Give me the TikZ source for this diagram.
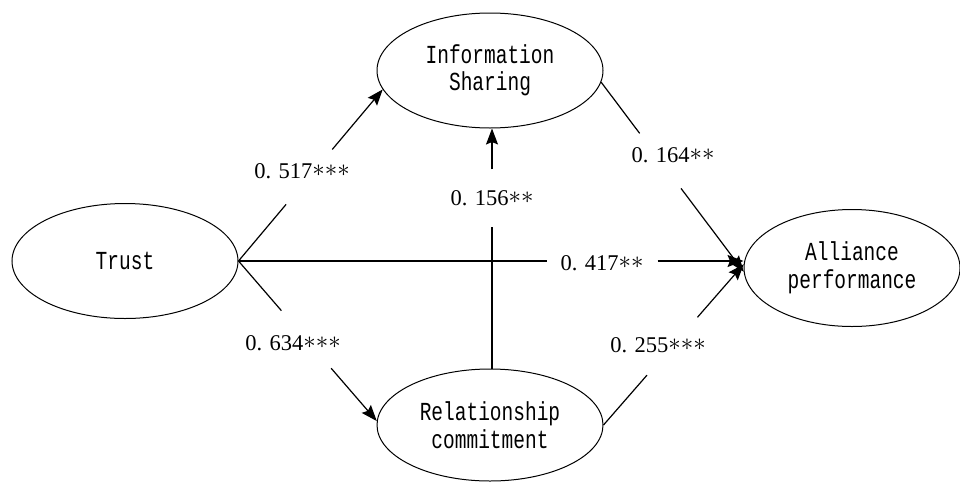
\documentclass[tikz,border=0pt]{standalone}
\usepackage{fontspec}
\setmainfont{Liberation Serif}
\newfontfamily\nodefont[FakeStretch=0.75]{Liberation Mono}
\newcommand{\onestar}{\mathord{\ast}}
\newcommand{\stars}[1]{\raisebox{1.5pt}{\fontsize{25}{25}\selectfont$#1$}}
\usetikzlibrary{shapes.geometric,arrows.meta,calc}
\begin{document}
\begin{tikzpicture}[x=1pt,y=-1pt,
  latent/.style={draw, ellipse, line width=1.0pt, inner sep=0pt,
    minimum width=226pt, minimum height=115pt, align=center,
    font=\nodefont\fontsize{26}{27.5}\selectfont},
  link/.style={line width=1.2pt},
  arrowlink/.style={line width=1.2pt, -{Stealth[length=16pt,width=12pt,inset=2.5pt]}},
  coef/.style={font=\fontsize{22.5}{26}\selectfont, inner sep=0pt}]
\useasboundingbox (0,0) rectangle (960,485);
\node[latent] (T) at (125,261) {Trust};
\node[latent] (IS) at (490,70.5) {Information\\Sharing};
\node[latent, minimum width=216pt, minimum height=117pt] (AP) at (852,268) {Alliance\\performance};
\node[latent, minimum height=112pt] (RC) at (490,425) {Relationship\\commitment};

% Trust -> Information Sharing
\coordinate (t1) at (T.east);
\coordinate (i1) at (IS.190);
\draw[link] (t1) -- ($(t1)!0.33!(i1)$);
\draw[arrowlink] ($(t1)!0.65!(i1)$) -- (i1);
\node[coef] (c1) at (302,171) {0. 517\stars{\onestar\onestar\onestar}};

% Trust -> Relationship commitment
\coordinate (r1) at (RC.178);
\draw[link] (t1) -- ($(t1)!0.31!(r1)$);
\draw[arrowlink] ($(t1)!0.67!(r1)$) -- (r1);
\node[coef] (c2) at (293,343) {0. 634\stars{\onestar\onestar\onestar}};

% Trust -> Alliance performance
\coordinate (a1) at (T.east -| AP.west);
\draw[link] (t1) -- ($(t1)!0.61!(a1)$);
\draw[arrowlink] ($(t1)!0.83!(a1)$) -- (a1);
\node[coef] (c3) at (602,263) {0. 417\stars{\onestar\onestar}};

% Information Sharing -> Alliance performance
\coordinate (i2) at (IS.-6);
\coordinate (a2) at (AP.182);
\draw[link] (i2) -- ($(i2)!0.27!(a2)$);
\draw[arrowlink] ($(i2)!0.56!(a2)$) -- (a2);
\node[coef] (c4) at (673,155) {0. 164\stars{\onestar\onestar}};

% Relationship commitment -> Alliance performance
\coordinate (r2) at (RC.east);
\coordinate (a3) at (AP.178);
\draw[link] (r2) -- ($(r2)!0.31!(a3)$);
\draw[arrowlink] ($(r2)!0.67!(a3)$) -- (a3);
\node[coef] (c5) at (658,345) {0. 255\stars{\onestar\onestar\onestar}};

% Relationship commitment -> Information Sharing
\coordinate (r3) at ([xshift=2pt]RC.north);
\coordinate (i3) at ([xshift=2pt]IS.south);
\draw[link] (r3) -- ($(r3)!0.59!(i3)$);
\draw[arrowlink] ($(r3)!0.83!(i3)$) -- (i3);
\node[coef] (c6) at (492,198) {0. 156\stars{\onestar\onestar}};
\end{tikzpicture}
\end{document}
